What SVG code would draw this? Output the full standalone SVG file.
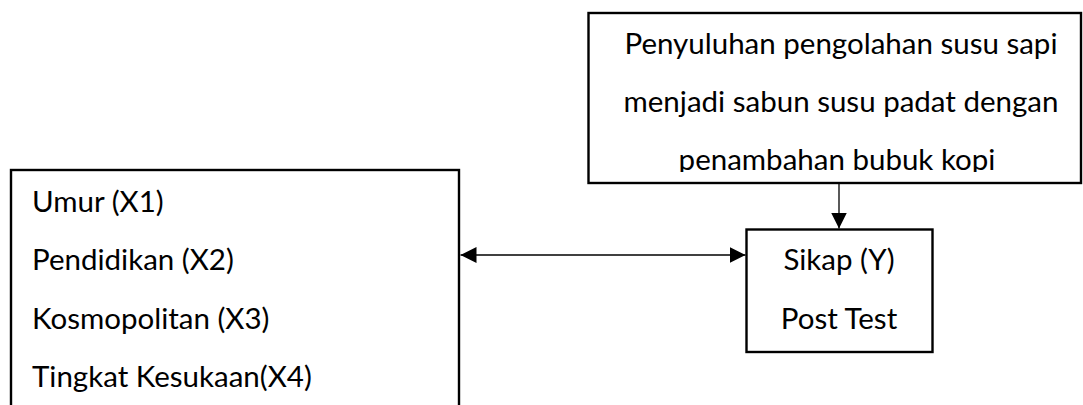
<svg xmlns="http://www.w3.org/2000/svg" width="1083" height="405" viewBox="0 0 1083 405">
<style>
.box{fill:#fff;stroke:#000;stroke-width:2.4}
.t{font-family:Lato,"Open Sans","Liberation Sans",sans-serif;font-size:29.5px;fill:#000}
.c{text-anchor:middle}
.line{stroke:#000;stroke-width:1.3;fill:none}
</style>
<defs>
<marker id="ah" markerUnits="userSpaceOnUse" markerWidth="16" markerHeight="16" viewBox="0 0 14 14" refX="14" refY="7" orient="auto-start-reverse">
<path d="M0,0 L14,7 L0,14 Z" fill="#000"/>
</marker>
<clipPath id="clipTop"><rect x="590" y="14" width="490" height="158"/></clipPath>
</defs>
<rect width="1083" height="405" fill="#fff"/>
<g id="node-penyuluhan">
<rect class="box" x="588.5" y="13" width="492.5" height="170"/>
<g clip-path="url(#clipTop)">
<text class="t c" x="841" y="53.5">Penyuluhan pengolahan susu sapi</text>
<text class="t c" x="841" y="112">menjadi sabun susu padat dengan</text>
<text class="t c" x="837" y="170">penambahan bubuk kopi</text>
</g>
</g>
<g id="node-variabel">
<rect class="box" x="11" y="170" width="448" height="260"/>
<text class="t" x="32" y="211.5">Umur (X1)</text>
<text class="t" x="32" y="270">Pendidikan (X2)</text>
<text class="t" x="32" y="328.5">Kosmopolitan (X3)</text>
<text class="t" x="32" y="387">Tingkat Kesukaan(X4)</text>
</g>
<g id="node-sikap">
<rect class="box" x="746.5" y="229.5" width="186" height="122.5"/>
<text class="t c" x="839" y="270">Sikap (Y)</text>
<text class="t c" x="839" y="328.5">Post Test</text>
</g>
<g id="connectors">
<line class="line" x1="460.5" y1="255" x2="745.5" y2="255" marker-start="url(#ah)" marker-end="url(#ah)"/>
<line class="line" x1="839" y1="184" x2="839" y2="228.5" marker-end="url(#ah)"/>
</g>
</svg>
